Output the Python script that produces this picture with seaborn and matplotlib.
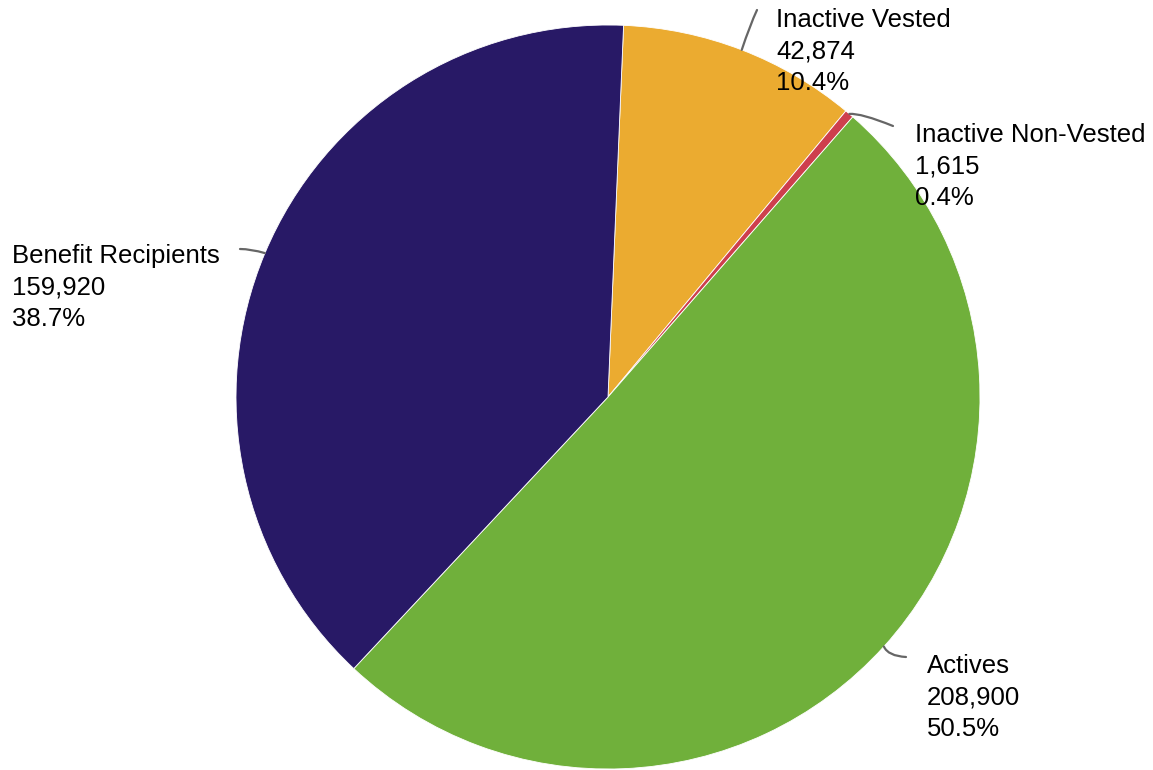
import numpy as np
import matplotlib
matplotlib.use("Agg")
import matplotlib.pyplot as plt
from matplotlib.path import Path
from matplotlib.patches import PathPatch
import seaborn as sns

# Membership by status
categories = ["Inactive Vested", "Inactive Non-Vested", "Actives", "Benefit Recipients"]
members = [42874, 1615, 208900, 159920]
colors = ["#EBAB30", "#CE3F4D", "#70B03B", "#281966"]

sns.set_theme(style="white")
plt.rcParams["font.family"] = ["Liberation Sans", "DejaVu Sans"]

W, H = 1153, 770
fig = plt.figure(figsize=(W / 100, H / 100), dpi=100)
ax = fig.add_axes([0, 0, 1, 1])

cx, cy, r = 608, 373, 372
start = 87.6
ax.pie(members, colors=colors, startangle=start, counterclock=False,
       center=(cx, cy), radius=r, frame=True,
       wedgeprops=dict(edgecolor="white", linewidth=0.6))
ax.set_xlim(0, W)
ax.set_ylim(0, H)
ax.set_aspect("equal")
ax.axis("off")

# label anchor (left x, first baseline), connector end and bend point
layout = {
    "Inactive Vested": dict(text=(776, 743), end=(757, 760), ctrl=(750, 745)),
    "Inactive Non-Vested": dict(text=(915, 628), end=(893, 644), ctrl=(861, 657)),
    "Actives": dict(text=(927, 97), end=(906, 113), ctrl=(888, 114)),
    "Benefit Recipients": dict(text=(12, 507), end=(240, 521), ctrl=(251, 521)),
}
line_gap = 31.5

total = sum(members)
cum = 0
for name, val in zip(categories, members):
    mid = np.deg2rad(start - 360 * (cum + val / 2) / total)
    cum += val
    sx, sy = cx + r * np.cos(mid), cy + r * np.sin(mid)
    lay = layout[name]
    path = Path([(sx, sy), lay["ctrl"], lay["end"]],
                [Path.MOVETO, Path.CURVE3, Path.CURVE3])
    ax.add_patch(PathPatch(path, fill=False, edgecolor="#666666", lw=1.6,
                           capstyle="round", zorder=3))
    pct = 100 * val / total
    tx, ty = lay["text"]
    for i, line in enumerate([name, f"{val:,}", f"{pct:.1f}%"]):
        ax.text(tx, ty - i * line_gap, line, ha="left", va="baseline",
                fontsize=18.5, color="#000000")

fig.savefig("out.png", dpi=100)
